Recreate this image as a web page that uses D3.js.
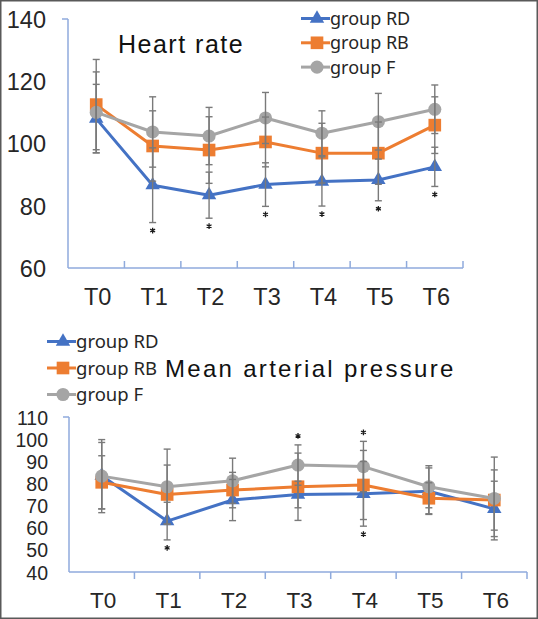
<!DOCTYPE html>
<html><head><meta charset="utf-8">
<script src="https://cdn.jsdelivr.net/npm/d3@7"></script>
<style>
html,body{margin:0;padding:0;background:#fff;}
svg{display:block;font-family:"Liberation Sans",Arial,sans-serif;}
</style></head>
<body>
<svg id="c" width="538" height="619"></svg>
<script>
// ---------- data ----------
const categories = ["T0","T1","T2","T3","T4","T5","T6"];
const seriesNames = ["group RD","group RB","group F"];

// Heart rate
const hrRD   = [108, 86.6, 83.4, 86.8, 87.8, 88.3, 92.5];
const hrRB   = [112.5, 99.2, 97.9, 100.5, 96.9, 96.9, 105.9];
const hrF    = [110, 103.7, 102.4, 108.2, 103.3, 107, 111];
const hrRDsd = [11, 12, 7.4, 7, 7.9, 6.7, 6.3];
const hrRBsd = [14.5, 11.3, 10.7, 8, 9.6, 10, 9.1];
const hrFsd  = [13, 11.3, 9.2, 8.2, 7.2, 9.1, 7.8];
const hrTicks = [60, 80, 100, 120, 140];
// significance marks: [category index, series index, side]
const hrSig = [[1,0,"below"],[2,0,"below"],[3,0,"below"],[4,0,"below"],[5,0,"below"],[6,0,"below"]];

// Mean arterial pressure
const mapRD   = [83.5, 63, 72.5, 75, 75.3, 76.5, 68.5];
const mapRB   = [80.5, 75, 77, 78.5, 79.3, 73.3, 72.5];
const mapF    = [83.3, 78.5, 81.2, 88.3, 87.6, 78.5, 73.2];
const mapRDsd = [15, 8.5, 9.3, 6, 14.6, 10.5, 12.5];
const mapRBsd = [12, 13.3, 8, 15.2, 15.6, 7, 13.6];
const mapFsd  = [16.5, 17, 10.2, 9.1, 11.4, 9.5, 18.7];
const mapTicks = [40, 50, 60, 70, 80, 90, 100, 110];
const mapSig = [[1,0,"below"],[3,2,"above"],[4,2,"above"],[4,0,"below"]];

// ---------- style ----------
const colors = ["#4472C4","#ED7D31","#A5A5A5"];
const symbols = [d3.symbolTriangle, d3.symbolSquare, d3.symbolCircle];
const symSizes = [90, 160, 135];
const axisColor = "#8FAADC";
const errColor = "#7A7A7A";
const textColor = "#262626";
const sansLatin = '"Liberation Sans",Arial,sans-serif';
const sansLegend = '"Noto Sans","Open Sans",sans-serif';

const svg = d3.select("#c");
svg.append("rect").attr("x",0.75).attr("y",0.75).attr("width",536.5).attr("height",617.5)
  .attr("fill","#fff").attr("stroke","#595959").attr("stroke-width",1.5);

function drawChart(o){
  const g = svg.append("g");
  const x = d3.scaleBand().domain(categories).range([o.x0, o.x1]).padding(0);
  const y = d3.scaleLinear().domain([o.ticks[0], o.ticks[o.ticks.length-1]]).range([o.y0, o.y1]);
  const cx = c => x(c) + x.bandwidth()/2;

  // axes lines
  g.append("line").attr("x1",o.x0).attr("x2",o.x0).attr("y1",y.range()[0]).attr("y2",y.range()[1])
    .attr("stroke",axisColor).attr("stroke-width",1.5);
  g.append("line").attr("x1",o.x0-6).attr("x2",o.x0).attr("y1",y.range()[1]).attr("y2",y.range()[1])
    .attr("stroke",axisColor).attr("stroke-width",1.5);
  g.append("line").attr("x1",o.x0).attr("x2",o.x1).attr("y1",o.y0).attr("y2",o.y0)
    .attr("stroke",axisColor).attr("stroke-width",1.5);
  const bounds = categories.map(c => x(c)).concat([o.x1]).slice(1);
  g.selectAll(".xt").data(bounds).join("line")
    .attr("x1",d=>d).attr("x2",d=>d).attr("y1",o.y0).attr("y2",o.y0 + o.tickDir*7)
    .attr("stroke",axisColor).attr("stroke-width",1.5);

  // y labels
  const ya = g.append("g").attr("transform",`translate(${o.x0},0)`)
    .call(d3.axisLeft(y).tickValues(o.ticks).tickSize(0).tickPadding(o.yPad));
  ya.select(".domain").remove();
  ya.selectAll("text").attr("font-size",o.yFont).attr("fill",textColor)
    .attr("font-family",sansLatin).attr("dy","0.36em");

  // x labels
  const xa = g.append("g").attr("transform",`translate(0,${o.y0})`)
    .call(d3.axisBottom(x).tickSize(0));
  xa.select(".domain").remove();
  xa.selectAll("text").attr("font-size",o.xFont).attr("fill",textColor)
    .attr("font-family",sansLatin)
    .attr("x",1.5).attr("y",o.xLabelOff).attr("dy",0);

  // series
  o.series.forEach((vals, si) => {
    const line = d3.line().x((d,i)=>cx(categories[i])).y(d=>y(d));
    g.append("path").attr("d",line(vals)).attr("fill","none")
      .attr("stroke",colors[si]).attr("stroke-width",3).attr("stroke-linejoin","round");
    g.selectAll(null).data(vals).join("path")
      .attr("d",d3.symbol().type(symbols[si]).size(symSizes[si]))
      .attr("transform",(d,i)=>`translate(${cx(categories[i])},${y(d)})`)
      .attr("fill",colors[si]);
  });
  // error bars on top
  o.series.forEach((vals, si) => {
    const sd = o.sds[si];
    vals.forEach((v,i) => {
      const X = cx(categories[i]);
      const top = y(v+sd[i]), bot = y(v-sd[i]);
      g.append("line").attr("x1",X).attr("x2",X).attr("y1",top).attr("y2",bot)
        .attr("stroke",errColor).attr("stroke-width",1.4);
      [top,bot].forEach(yy => g.append("line").attr("x1",X-3.5).attr("x2",X+3.5)
        .attr("y1",yy).attr("y2",yy).attr("stroke",errColor).attr("stroke-width",1.4));
    });
  });
  // significance asterisks
  o.sig.forEach(([ci, si, side]) => {
    const v = o.series[si][ci], sd = o.sds[si][ci];
    const X = cx(categories[ci]);
    const Y = side === "below" ? y(v - sd) + 8 : y(v + sd) - 9;
    g.append("path").attr("d",d3.symbol().type(d3.symbolAsterisk).size(22)())
      .attr("transform",`translate(${X},${Y})`)
      .attr("fill","none").attr("stroke","#1a1a1a").attr("stroke-width",1.3);
  });

  // title
  g.append("text").attr("x",o.title.x).attr("y",o.title.y).attr("font-size",o.title.size)
    .attr("font-family",sansLatin).attr("letter-spacing",o.title.ls)
    .attr("fill","#111").text(o.title.text);

  // legend
  seriesNames.forEach((n, si) => {
    const ly = o.legend.y + si*o.legend.dy;
    g.append("line").attr("x1",o.legend.x).attr("x2",o.legend.x+29)
      .attr("y1",ly).attr("y2",ly).attr("stroke",colors[si]).attr("stroke-width",3);
    g.append("path").attr("d",d3.symbol().type(symbols[si]).size(symSizes[si])())
      .attr("transform",`translate(${o.legend.x+16},${ly})`).attr("fill",colors[si]);
    g.append("text").attr("x",o.legend.x+29).attr("y",ly+6.5).attr("font-size",o.legend.size)
      .attr("font-family",sansLegend).attr("fill",textColor).text(n);
  });
}

drawChart({
  x0:68, x1:463, y0:268, y1:19, ticks:hrTicks, tickDir:-1,
  yPad:22, yFont:23.5, xFont:23.5, xLabelOff:37,
  series:[hrRD,hrRB,hrF], sds:[hrRDsd,hrRBsd,hrFsd], sig:hrSig,
  title:{text:"Heart rate", x:118, y:53, size:25, ls:1.5},
  legend:{x:301, y:18.5, dy:24.3, size:18}
});

drawChart({
  x0:69, x1:527, y0:572, y1:417, ticks:mapTicks, tickDir:1,
  yPad:21, yFont:19.5, xFont:22.5, xLabelOff:36,
  series:[mapRD,mapRB,mapF], sds:[mapRDsd,mapRBsd,mapFsd], sig:mapSig,
  title:{text:"Mean arterial pressure", x:165, y:377, size:24, ls:2.3},
  legend:{x:47, y:341.5, dy:26.5, size:18.5}
});
</script>
</body></html>
